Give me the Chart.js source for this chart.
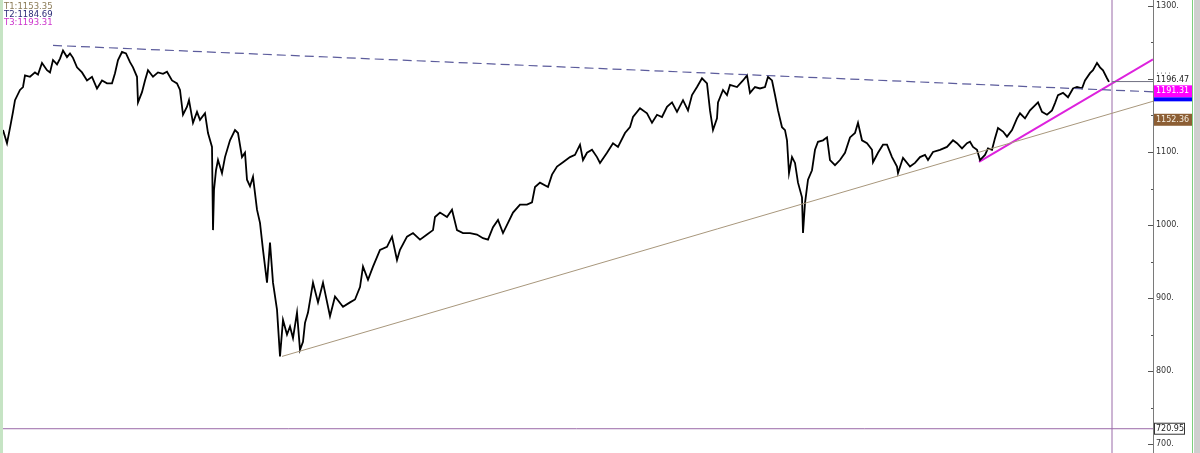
<!DOCTYPE html>
<html>
<head>
<meta charset="utf-8">
<script src="https://cdn.jsdelivr.net/npm/chart.js@4"></script>
<style>
  html, body { margin: 0; padding: 0; background: #fff; }
  #wrap { width: 1200px; height: 453px; position: relative; }
</style>
</head>
<body>
<div id="wrap"><canvas id="chart" width="1200" height="453"></canvas></div>
<script>
// bar position (time index) and price
const barPos = [3,7,10,13,15,20,23,25,30,35,38,42,47,50,53,57,60,63,67,70,73,77,82,87,92,97,102,107,112,115,118,122,126,130,133,137,138,142,145,148,153,158,163,167,172,177,180,183,187,189,193,197,200,205,208,212,213,214,216,218,222,225,230,235,238,242,245,247,250,253,257,260,263,267,270,273,277,280,283,287,290,293,297,300,303,305,308,313,318,323,330,335,343,350,355,360,363,368,373,380,387,392,397,400,407,413,420,427,433,435,440,447,452,457,463,470,477,483,488,493,498,503,508,513,520,527,532,535,540,548,552,557,563,570,575,580,583,587,592,597,600,607,613,618,625,630,633,640,647,652,657,662,667,672,677,683,688,692,697,702,707,710,713,717,718,723,727,730,737,743,747,750,755,760,765,768,772,775,778,782,785,787,789,792,795,798,802,803,805,808,812,815,818,823,827,830,835,840,845,850,855,858,862,867,872,873,878,883,887,892,897,898,903,910,915,920,925,928,933,940,947,953,957,962,967,970,973,977,980,985,988,992,995,998,1003,1007,1012,1017,1020,1025,1030,1035,1038,1042,1047,1052,1055,1058,1063,1068,1073,1077,1082,1085,1090,1093,1097,1100,1103,1107,1109];
const closes = [1130,1112,1133,1155,1171,1185,1189,1205,1203,1209,1206,1222,1212,1209,1226,1220,1228,1239,1230,1235,1229,1216,1209,1198,1203,1187,1198,1194,1194,1208,1226,1237,1235,1223,1216,1203,1168,1182,1198,1212,1203,1209,1207,1210,1198,1194,1185,1151,1162,1171,1140,1155,1144,1153,1126,1107,993,1048,1075,1089,1071,1093,1116,1130,1126,1093,1099,1062,1053,1066,1021,1003,966,921,976,921,884,820,870,850,861,845,880,829,840,866,880,921,894,921,875,902,888,894,898,915,943,925,943,966,970,984,952,966,984,989,980,987,993,1011,1017,1011,1021,993,989,989,987,982,980,997,1007,989,1003,1017,1028,1028,1031,1052,1058,1052,1069,1080,1086,1093,1096,1110,1089,1099,1103,1093,1085,1099,1112,1107,1126,1134,1148,1160,1153,1140,1151,1148,1162,1168,1155,1171,1157,1178,1189,1201,1194,1157,1130,1146,1168,1185,1178,1192,1189,1198,1205,1181,1189,1187,1189,1203,1198,1178,1157,1134,1130,1116,1071,1093,1085,1058,1038,989,1030,1062,1075,1103,1114,1116,1120,1089,1082,1089,1099,1120,1126,1140,1116,1112,1103,1086,1099,1110,1110,1093,1080,1071,1092,1080,1085,1093,1096,1089,1100,1103,1107,1116,1112,1105,1112,1114,1107,1103,1089,1096,1105,1103,1119,1133,1128,1121,1130,1146,1153,1146,1157,1164,1168,1155,1151,1157,1167,1178,1181,1175,1187,1189,1187,1198,1208,1212,1222,1216,1212,1201,1196];

// trend lines: [x0, x1] and [y0, y1]
const t1X = [282, 1153], t1Y = [820, 1169.5];   // tan support
const t2X = [53, 1153],  t2Y = [1246, 1182.4];  // blue dashed resistance
const t3X = [979, 1153], t3Y = [1086.5, 1227];  // magenta short-term

const lastBar = 1112;
const lastPrice = 1196.47;
const hLevel = 720.95;
const tLabels = ['T1:1153.35', 'T2:1184.69', 'T3:1193.31'];
const tColors = ['#8a7a55', '#2c2c78', '#cc33cc'];
const yTicks = [700, 800, 900, 1000, 1100, 1300];   // 1200 is hidden behind the price tag

const yMin = 687.7, yMax = 1308.2;
const xMax = 1153;

function pts(xs, ys) {
    return xs.map((x, i) => ({ x: x, y: ys[i] }));
}

const font = 'DejaVu Sans, Verdana, sans-serif';

const overlay = {
    id: 'overlay',
    beforeDraw(chart) {
        const c = chart.ctx;
        c.save();
        c.fillStyle = '#ffffff';
        c.fillRect(0, 0, chart.width, chart.height);
        c.restore();
    },
    afterDraw(chart) {
        const c = chart.ctx;
        const y = chart.scales.y;
        const axX = y.left;
        c.save();
        // small tick marks inside the axis line
        y.ticks.forEach(t => {
            const py = Math.round(y.getPixelForValue(t.value)) + 0.5;
            const len = t.value % 100 === 0 ? 5 : 2;
            c.strokeStyle = '#555';
            c.lineWidth = 1;
            c.beginPath();
            c.moveTo(axX - len, py);
            c.lineTo(axX, py);
            c.stroke();
        });

        c.font = '8px ' + font;
        c.textBaseline = 'middle';
        c.textAlign = 'left';

        // last price label, with the dotted remains of the 1200 label above it
        const pLast = y.getPixelForValue(lastPrice);
        c.fillStyle = '#222';
        c.fillText(lastPrice.toFixed(2), axX + 3, pLast - 2);
        c.fillStyle = '#777';
        for (let i = 0; i < 4; i++) c.fillRect(axX + 4 + i * 4, pLast - 9, 1, 1);

        // T3 (magenta) and T2 (blue) boxes
        const p3 = y.getPixelForValue(1191.31);
        c.fillStyle = '#ff00ff';
        c.fillRect(axX + 1, p3, 38, 12);
        c.fillStyle = '#0000ff';
        c.fillRect(axX + 1, p3 + 12, 38, 4);
        c.fillStyle = '#ffffff';
        c.fillText('1191.31', axX + 3, p3 + 6);

        // T1 box
        const p1 = y.getPixelForValue(1152.36);
        c.fillStyle = '#8c5e34';
        c.fillRect(axX + 1, p1, 38, 12);
        c.fillStyle = '#f4ede0';
        c.fillText('1152.36', axX + 3, p1 + 6);

        // horizontal level label
        const pH = y.getPixelForValue(hLevel);
        c.fillStyle = '#ffffff';
        c.fillRect(axX + 1, pH - 6, 31, 12);
        c.strokeStyle = '#333';
        c.strokeRect(axX + 1.5, pH - 5.5, 30, 11);
        c.fillStyle = '#222';
        c.fillText(hLevel.toFixed(2), axX + 3, pH);

        // frame strips
        c.fillStyle = '#c6e4c4';
        c.fillRect(0, 0, 3, chart.height);
        c.fillStyle = '#7ccf7c';
        c.fillRect(1192, 0, 1, chart.height);
        c.fillStyle = '#cfcfcf';
        c.fillRect(1194, 0, 6, chart.height);

        // trend readouts
        c.textBaseline = 'top';
        c.font = '8.5px ' + font;
        tLabels.forEach((s, i) => {
            c.fillStyle = tColors[i];
            c.fillText(s, 4, 3 + i * 8);
        });
        c.restore();
    }
};

const ctx = document.getElementById('chart').getContext('2d');
new Chart(ctx, {
    type: 'line',
    data: {
        datasets: [
            { data: pts(t1X, t1Y), borderColor: '#a8977c', borderWidth: 1 },
            { data: pts(t2X, t2Y), borderColor: '#5c5c9c', borderWidth: 1.2, borderDash: [9, 5] },
            { data: pts([lastBar, lastBar], [yMin, yMax]), borderColor: '#9a6aa8', borderWidth: 1 },
            { data: pts([0, xMax], [hLevel, hLevel]), borderColor: '#9a6aa8', borderWidth: 1 },
            { data: pts([lastBar, xMax], [lastPrice, lastPrice]), borderColor: '#6f6f80', borderWidth: 1 },
            { data: pts(barPos, closes), borderColor: '#000000', borderWidth: 1.8 },
            { data: pts(t3X, t3Y), borderColor: '#dd22dd', borderWidth: 2 }
        ]
    },
    options: {
        responsive: false,
        animation: false,
        layout: { padding: 0 },
        elements: { point: { radius: 0 }, line: { tension: 0, fill: false } },
        plugins: { legend: { display: false }, tooltip: { enabled: false } },
        scales: {
            x: { type: 'linear', display: false, min: 0, max: xMax },
            y: {
                position: 'right',
                min: yMin,
                max: yMax,
                afterFit(scale) {
                    scale.width = 1200 - xMax;
                    scale.paddingTop = 0;
                    scale.paddingBottom = 0;
                },
                grid: { drawOnChartArea: false, drawTicks: false },
                border: { display: true, color: '#7a7a7a' },
                ticks: {
                    stepSize: 50,
                    includeBounds: false,
                    autoSkip: false,
                    padding: 3,
                    color: '#333',
                    font: { family: font, size: 8 },
                    callback: v => yTicks.includes(v) ? v + '.' : ''
                }
            }
        }
    },
    plugins: [overlay]
});
</script>
</body>
</html>
